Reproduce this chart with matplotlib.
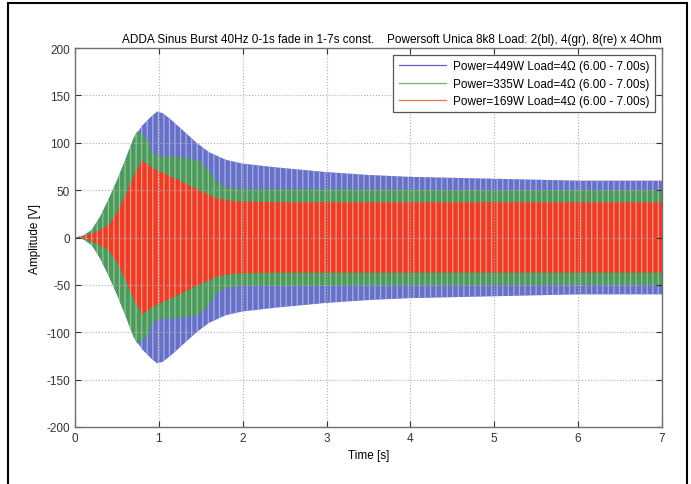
import numpy as np
import matplotlib
matplotlib.use('Agg')
import matplotlib.pyplot as plt
from matplotlib.patches import Rectangle
from matplotlib.lines import Line2D

# envelope of each 40 Hz burst (V, peak)
t_blue = [0, 0.1, 0.2, 0.3, 0.4, 0.5, 0.6, 0.7, 0.8, 0.9, 0.98, 1.05, 1.15,
          1.3, 1.45, 1.6, 1.8, 2.0, 2.4, 3.0, 3.5, 4.0, 5.0, 6.0, 7.0]
env_blue = [0, 2, 8, 22, 40, 60, 82, 105, 118, 127, 133, 131, 124,
            112, 100, 90, 82, 78, 74, 69, 66, 64, 62, 60, 60]

t_green = [0, 0.1, 0.2, 0.3, 0.4, 0.5, 0.6, 0.7, 0.74, 0.8, 0.86, 0.92, 1.0,
           1.2, 1.4, 1.5, 1.6, 1.7, 1.8, 2.0, 3.0, 5.0, 7.0]
env_green = [0, 2, 8, 22, 40, 60, 82, 105, 112, 108, 104, 90, 86,
             85, 83, 80, 70, 58, 53, 51, 51, 50, 50]

t_red = [0, 0.1, 0.2, 0.3, 0.4, 0.5, 0.6, 0.7, 0.8, 0.85, 0.95, 1.2, 1.45,
         1.7, 1.9, 2.5, 4.0, 7.0]
env_red = [0, 1, 4, 8, 13, 26, 44, 65, 81, 78, 72, 62, 51,
           41, 38, 37, 37, 37]

labels = ['Power=449W Load=4\u03a9 (6.00 - 7.00s)',
          'Power=335W Load=4\u03a9 (6.00 - 7.00s)',
          'Power=169W Load=4\u03a9 (6.00 - 7.00s)']

plt.rcParams['font.family'] = ['Liberation Sans', 'DejaVu Sans']
plt.rcParams['hatch.linewidth'] = 0.9
plt.rcParams['axes.unicode_minus'] = False

fig = plt.figure(figsize=(6.91, 4.85), dpi=100)
ax = fig.add_axes([75 / 691, 1 - 428 / 485, 587 / 691, 379 / 485])

series = [
    (t_blue, env_blue, '#6670c6', '#a9aee4', '#5a66c4'),
    (t_green, env_green, '#4e9a5d', '#8ec698', '#6bb477'),
    (t_red, env_red, '#ec3c28', '#f6957a', '#f07050'),
]
for t, env, face, light, _ in series:
    t = np.asarray(t)
    env = np.asarray(env)
    ax.fill_between(t, -env, env, facecolor=face, edgecolor=light,
                    hatch='|||', linewidth=0)

ax.set_xlim(0, 7)
ax.set_ylim(-200, 200)
ax.set_xticks(range(0, 8))
ax.set_yticks(range(-200, 201, 50))
ax.grid(True, linestyle=':', color='#b0b0b0', linewidth=0.8)
ax.tick_params(direction='in', top=True, right=True, length=4,
               labelsize=8.5, colors='#333333', width=0.8)
for s in ax.spines.values():
    s.set_color('#707070')
    s.set_linewidth(1.0)
ax.set_xlabel('Time [s]', fontsize=8.5, labelpad=4)
ax.set_ylabel('Amplitude [V]', fontsize=8.5, labelpad=4)

fig.text(248 / 691, 1 - 40 / 485, 'ADDA Sinus Burst 40Hz 0-1s fade in 1-7s const.',
         ha='center', va='center', fontsize=8.5)
fig.text(662 / 691, 1 - 40 / 485,
         'Powersoft Unica 8k8 Load: 2(bl), 4(gr), 8(re) x 4Ohm',
         ha='right', va='center', fontsize=8.5)

handles = [Line2D([], [], color=c[4], linewidth=0.9) for c in series]
leg = ax.legend(handles, labels, loc='upper right', fontsize=8.5,
                fancybox=False, framealpha=1, edgecolor='#555555',
                handlelength=4.0, borderaxespad=0.6, labelspacing=0.45,
                borderpad=0.45, handletextpad=0.6)
leg.get_frame().set_linewidth(0.9)

fig.patches.append(Rectangle((8 / 691, -0.05), 679 / 691, 1.05 - 4 / 485,
                             transform=fig.transFigure, fill=False,
                             edgecolor='black', linewidth=1.5))

fig.savefig('out.png', dpi=100)
